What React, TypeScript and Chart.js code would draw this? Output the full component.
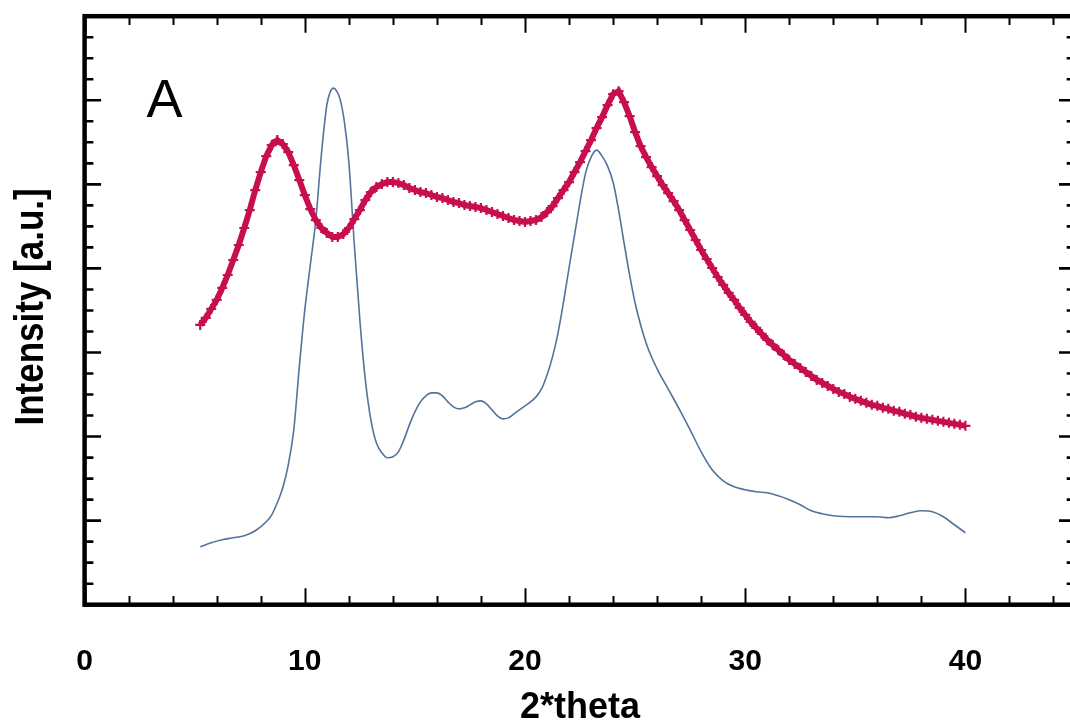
import { useEffect, useRef } from "react";
import { Chart, registerables } from "chart.js";

Chart.register(...registerables);

// ---- axis settings ----
const xMin = 0;
const xMax = 45;
const xMinorStep = 2;
const xMajorStep = 10;
const xTickValues = [0, 10, 20, 30, 40];
const xTickLabels = ["0", "10", "20", "30", "40"];
const yMin = 0;
const yMax = 589; // intensity in arbitrary units
const yMajorCount = 7;
const yMinorPerMajor = 4;

// ---- red (measured, crosses) ----
const redTheta = [
  5.25, 5.5, 5.75, 6.0, 6.25, 6.5, 6.75, 7.0, 7.25, 7.5, 7.75, 8.0, 8.25, 8.5, 8.75, 9.0,
  9.25, 9.5, 9.75, 10.0, 10.25, 10.5, 10.75, 11.0, 11.25, 11.5, 11.75, 12.0, 12.25, 12.5,
  12.75, 13.0, 13.25, 13.5, 13.75, 14.0, 14.25, 14.5, 14.75, 15.0, 15.25, 15.5, 15.75,
  16.0, 16.25, 16.5, 16.75, 17.0, 17.25, 17.5, 17.75, 18.0, 18.25, 18.5, 18.75, 19.0,
  19.25, 19.5, 19.75, 20.0, 20.25, 20.5, 20.75, 21.0, 21.25, 21.5, 21.75, 22.0, 22.25,
  22.5, 22.75, 23.0, 23.25, 23.5, 23.75, 24.0, 24.25, 24.5, 24.75, 25.0, 25.25, 25.5,
  25.75, 26.0, 26.25, 26.5, 26.75, 27.0, 27.25, 27.5, 27.75, 28.0, 28.25, 28.5, 28.75,
  29.0, 29.25, 29.5, 29.75, 30.0, 30.25, 30.5, 30.75, 31.0, 31.25, 31.5, 31.75, 32.0,
  32.25, 32.5, 32.75, 33.0, 33.25, 33.5, 33.75, 34.0, 34.25, 34.5, 34.75, 35.0, 35.25,
  35.5, 35.75, 36.0, 36.25, 36.5, 36.75, 37.0, 37.25, 37.5, 37.75, 38.0, 38.25, 38.5,
  38.75, 39.0, 39.25, 39.5, 39.75, 40.0,
];
const redIntensity = [
  280, 287, 296, 305, 317, 330, 345, 360, 377, 395, 415, 433, 449, 460, 465, 461,
  453, 440, 425, 410, 396, 385, 377, 372, 368, 368, 371, 377, 386, 395,
  405, 413, 418, 421, 423, 423, 422, 420, 417, 415, 413, 412, 410,
  408, 407, 405, 403, 402, 400, 399, 398, 397, 395, 393, 391, 389,
  387, 385, 384, 383, 384, 385, 388, 393, 399, 407, 415, 423, 433,
  443, 454, 465, 477, 488, 500, 511, 514, 503, 489, 473, 459, 448,
  438, 429, 420, 412, 404, 395, 385, 375, 365, 355, 346, 337, 328,
  320, 312, 305, 297, 290, 283, 277, 271, 265, 260, 255, 250, 245,
  241, 237, 233, 229, 225, 222, 219, 216, 213, 211, 208, 206, 204,
  202, 200, 199, 197, 196, 194, 193, 191, 190, 188, 187, 186, 185,
  184, 183, 182, 181, 180, 179,
];

// ---- blue (reference, thin line) ----
const blueTheta = [
  5.25, 5.75, 6.25, 6.75, 7.25, 7.75, 8.25, 8.5, 8.75, 9.0, 9.25, 9.5, 9.75, 10.0,
  10.25, 10.5, 10.75, 11.0, 11.15, 11.3, 11.45, 11.6, 11.8, 12.0, 12.25, 12.5, 12.75,
  13.0, 13.25, 13.5, 13.75, 14.0, 14.25, 14.5, 14.75, 15.0, 15.25, 15.5, 15.75, 16.0,
  16.25, 16.5, 16.75, 17.0, 17.25, 17.5, 17.75, 18.0, 18.25, 18.5, 18.75, 19.0, 19.25,
  19.5, 19.75, 20.0, 20.25, 20.5, 20.75, 21.0, 21.25, 21.5, 21.75, 22.0, 22.25, 22.5,
  22.75, 23.0, 23.25, 23.5, 23.75, 24.0, 24.25, 24.5, 24.75, 25.0, 25.5, 26.0, 26.5,
  27.0, 27.5, 28.0, 28.5, 29.0, 29.5, 30.0, 30.5, 31.0, 31.5, 32.0, 32.5, 33.0, 33.5,
  34.0, 35.0, 36.0, 36.5, 37.0, 37.5, 38.0, 38.5, 39.0, 39.5, 40.0,
];
const blueIntensity = [
  58, 62, 65, 67, 69, 74, 83, 90, 102, 117, 140, 175, 238, 295,
  340, 385, 450, 500, 513, 517, 514, 506, 483, 443, 360, 285, 225,
  185, 162, 152, 147, 148, 153, 165, 180, 193, 203, 209, 212, 212,
  209, 203, 198, 196, 197, 200, 203, 204, 201, 195, 189, 186, 187,
  191, 195, 199, 203, 208, 216, 230, 248, 272, 303, 337, 370, 403,
  432, 448, 455, 449, 439, 423, 395, 362, 330, 302, 262, 236, 216,
  196, 175, 153, 135, 124, 118, 115, 113, 112, 109, 105, 100, 94, 91,
  89, 88, 88, 87, 89, 92, 94, 93, 88, 80, 72,
];

const redColor = "#c70f4f";
const blueColor = "#52739b";

const pairs = (xs: number[], ys: number[]) => xs.map((x, i) => ({ x, y: ys[i] }));

const framePlugin = {
  id: "framePlugin",
  afterDraw(chart: any) {
    const { ctx, chartArea: a, scales } = chart;
    const sx = scales.x;
    const sy = scales.y;
    ctx.save();
    ctx.strokeStyle = "#000";
    ctx.fillStyle = "#000";
    ctx.lineCap = "butt";

    // ticks on x (bottom and top), pointing inward
    ctx.lineWidth = 2;
    for (let v = xMin; v <= xMax + 1e-9; v += xMinorStep) {
      const px = Math.round(sx.getPixelForValue(v)) + 0.5;
      const major = Math.abs(v % xMajorStep) < 1e-9;
      const len = major ? 16.5 : 8.7;
      ctx.beginPath();
      ctx.moveTo(px, a.bottom);
      ctx.lineTo(px, a.bottom - len);
      ctx.moveTo(px, a.top);
      ctx.lineTo(px, a.top + len);
      ctx.stroke();
    }
    // ticks on y (left and right)
    ctx.lineWidth = 2.6;
    const total = yMajorCount * yMinorPerMajor;
    for (let i = 0; i <= total; i++) {
      const v = yMin + ((yMax - yMin) * i) / total;
      const py = sy.getPixelForValue(v);
      const major = i % yMinorPerMajor === 0;
      const len = major ? 16.5 : 8.8;
      ctx.beginPath();
      ctx.moveTo(a.left, py);
      ctx.lineTo(a.left + len, py);
      ctx.moveTo(a.right, py);
      ctx.lineTo(a.right - len, py);
      ctx.stroke();
    }
    // frame
    ctx.lineWidth = 4.5;
    ctx.strokeRect(a.left, a.top, a.right - a.left, a.bottom - a.top);

    // x tick labels
    ctx.font = 'bold 30px "Liberation Sans", Arial, sans-serif';
    ctx.textAlign = "center";
    ctx.textBaseline = "alphabetic";
    xTickValues.forEach((v, i) => {
      ctx.fillText(xTickLabels[i], sx.getPixelForValue(v), a.bottom + 65.5);
    });

    // x title
    ctx.font = 'bold 36px "Liberation Sans", Arial, sans-serif';
    ctx.fillText("2*theta", (a.left + a.right) / 2, a.bottom + 113);

    // y title
    ctx.save();
    ctx.translate(43.3, (a.top + a.bottom) / 2 - 3.5);
    ctx.rotate(-Math.PI / 2);
    ctx.scale(1, 1.17);
    ctx.font = 'bold 35px "Liberation Sans", Arial, sans-serif';
    ctx.textAlign = "center";
    ctx.textBaseline = "alphabetic";
    ctx.fillText("Intensity [a.u.]", 0, 0);
    ctx.restore();

    // panel letter
    ctx.font = '54px "Liberation Sans", Arial, sans-serif';
    ctx.textAlign = "left";
    ctx.textBaseline = "alphabetic";
    ctx.fillText("A", 146.5, 116.7);

    ctx.restore();
  },
};

export default function App() {
  const ref = useRef<HTMLCanvasElement>(null);

  useEffect(() => {
    if (!ref.current) return;
    const chart = new Chart(ref.current, {
      type: "scatter",
      data: {
        datasets: [
          {
            label: "sample",
            data: pairs(redTheta, redIntensity),
            showLine: true,
            borderColor: redColor,
            borderWidth: 6,
            backgroundColor: redColor,
            pointStyle: "cross",
            pointRadius: 5,
            pointBorderWidth: 2.2,
            pointBorderColor: redColor,
            tension: 0,
          },
          {
            label: "reference",
            data: pairs(blueTheta, blueIntensity),
            showLine: true,
            borderColor: blueColor,
            borderWidth: 1.6,
            pointRadius: 0,
            cubicInterpolationMode: "monotone",
          },
        ],
      },
      options: {
        animation: false,
        responsive: false,
        devicePixelRatio: 1,
        events: [],
        layout: { padding: { left: 84.6, right: 9.5, top: 16.2, bottom: 115.3 } },
        plugins: { legend: { display: false }, tooltip: { enabled: false } },
        scales: {
          x: { type: "linear", min: xMin, max: xMax, display: false },
          y: { type: "linear", min: yMin, max: yMax, display: false },
        },
      },
      plugins: [framePlugin],
    });
    return () => chart.destroy();
  }, []);

  return (
    <div
      style={{
        position: "fixed",
        left: 0,
        top: 0,
        width: 1070,
        height: 720,
        overflow: "hidden",
        background: "#fff",
      }}
    >
      <canvas ref={ref} width={1085} height={720} style={{ display: "block" }} />
    </div>
  );
}
